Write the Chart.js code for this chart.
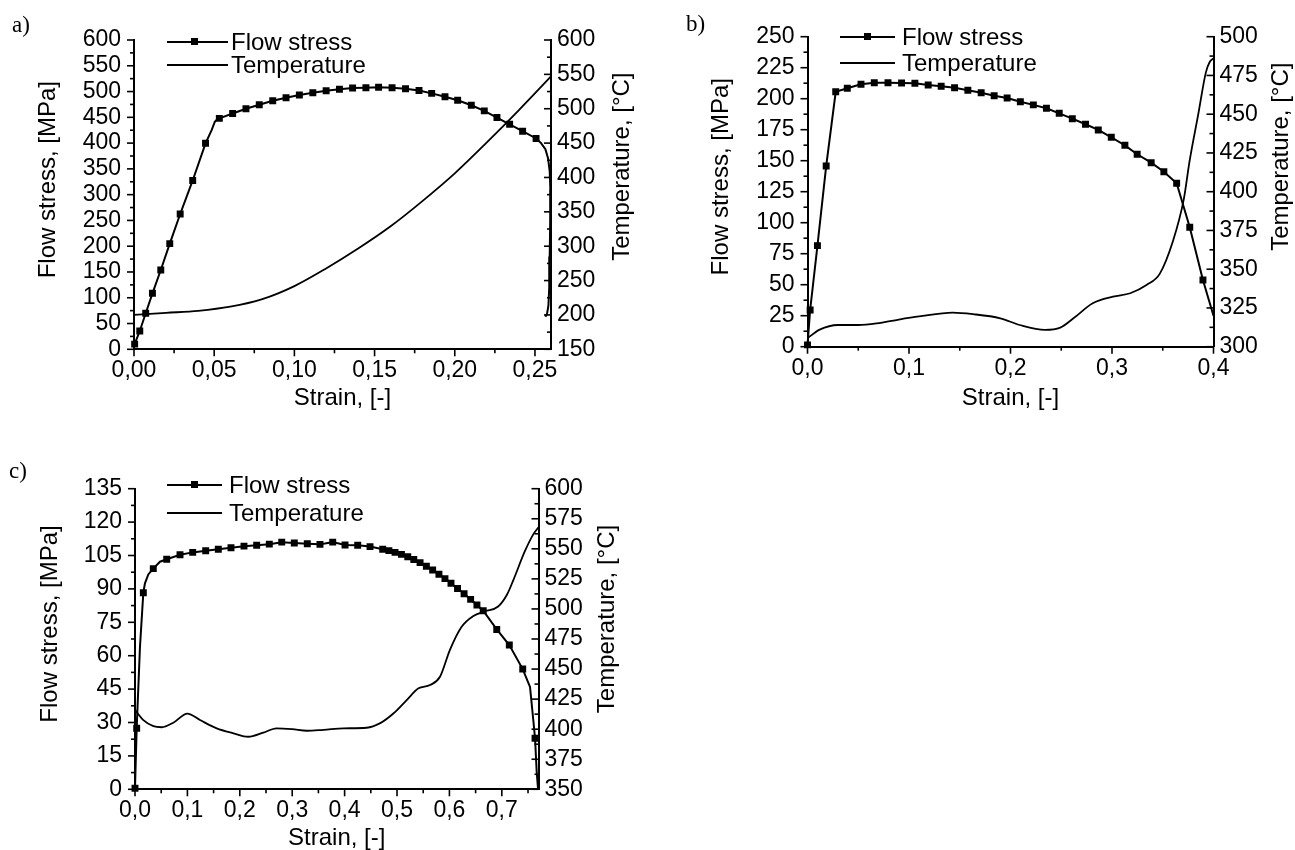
<!DOCTYPE html>
<html><head><meta charset="utf-8">
<script src="https://cdn.jsdelivr.net/npm/chart.js@4.4.1/dist/chart.umd.min.js"></script>
<style>
html,body{margin:0;padding:0;background:#fff;overflow:hidden;width:1295px;height:850px;}
canvas{position:absolute;}
.lbl{position:absolute;font-family:'Liberation Serif','Times New Roman',serif;font-size:23px;line-height:26px;color:#000;}
.leg{position:absolute;font-family:'Liberation Sans',Arial,sans-serif;font-size:24px;line-height:28px;color:#000;white-space:nowrap;}
.legline{position:absolute;height:2px;background:#000;}
.legmark{position:absolute;width:7px;height:7px;background:#000;}
</style></head><body>
<canvas id="ca" width="660" height="430" style="left:0;top:0;width:660px;height:430px"></canvas>
<canvas id="cb" width="625" height="430" style="left:670px;top:0;width:625px;height:430px"></canvas>
<canvas id="cc" width="660" height="420" style="left:0;top:440px;width:660px;height:420px"></canvas>

<div class="lbl" style="left:12px;top:12px">a)</div>
<div class="lbl" style="left:686px;top:11px">b)</div>
<div class="lbl" style="left:9px;top:458px">c)</div>

<!-- legends -->
<div class="legline" style="left:167px;top:41px;width:61px"></div>
<div class="legmark" style="left:191px;top:38px"></div>
<div class="leg" style="left:231px;top:28px">Flow stress</div>
<div class="legline" style="left:167px;top:64px;width:61px"></div>
<div class="leg" style="left:231px;top:51px">Temperature</div>

<div class="legline" style="left:840px;top:36px;width:55px"></div>
<div class="legmark" style="left:864px;top:33px"></div>
<div class="leg" style="left:902px;top:23px">Flow stress</div>
<div class="legline" style="left:840px;top:62px;width:55px"></div>
<div class="leg" style="left:902px;top:49px">Temperature</div>

<div class="legline" style="left:167px;top:484px;width:55px"></div>
<div class="legmark" style="left:191px;top:481px"></div>
<div class="leg" style="left:229px;top:471px">Flow stress</div>
<div class="legline" style="left:167px;top:512px;width:55px"></div>
<div class="leg" style="left:229px;top:499px">Temperature</div>

<script>
// ---------------- Panel a) ----------------
const aMarkStrain = [0.0004,0.0036,0.0073,0.0115,0.0167,0.0223,0.0288,0.0366,0.0446,0.0532,0.0615,0.0698,0.0781,0.0865,0.0948,0.1031,0.1115,0.1198,0.1281,0.1363,0.1446,0.1525,0.1609,0.1693,0.1777,0.1856,0.1939,0.2018,0.2103,0.2184,0.2263,0.2342,0.2423,0.2507];
const aMarkStress = [10,35.5,70,108.6,153.8,205,262.5,327.5,399.6,448,457.5,466.5,474.5,482.3,488,493.3,497.8,501.5,504.4,506.9,507.5,508.2,507.5,505.5,502,496.5,490,483,473.5,462.5,449.5,436.5,423,409];
const aKneeStrain = [0.0484,0.0504,0.0518];
const aKneeStress = [425,441.5,446];
const aTailStrain = [0.2538,0.2565,0.2582,0.2592,0.2596,0.2595,0.2592,0.2589,0.2584,0.2575,0.2565];
const aTailStress = [400,388,370,345,310,250,180,120,85,68,63];
const aTempStrain = [0,0.02,0.04,0.06,0.08,0.10,0.12,0.14,0.16,0.18,0.20,0.22,0.24,0.26];
const aTemp       = [200,203,206,212,223,242,268,297,329,366,406,451,498,547];
const aXRange = [0,0.26], aYRange = [0,600], aY2Range = [150,600];
const aXSteps = [0.05,0.025], aYSteps = [50,25], aY2Steps = [50,25];

// ---------------- Panel b) ----------------
const bMarkStrain = [0,0.0026,0.0098,0.0184,0.0278,0.0392,0.0527,0.0658,0.0793,0.0927,0.1058,0.1189,0.1317,0.1449,0.158,0.1711,0.1839,0.1967,0.2097,0.2225,0.2354,0.248,0.2609,0.2739,0.2865,0.2993,0.3127,0.3248,0.3386,0.3511,0.3637,0.3766,0.3896];
const bMarkStress = [1.5,29.6,81.5,145.7,205.6,208.4,211.6,212.9,212.9,212.7,212.4,211,210,208.9,206.8,204.8,202.4,200.6,197.6,195,192.3,188.2,183.9,179.4,174.8,168.9,162.4,155.2,148.4,141.1,131.8,96.3,53.8];
const bTailStrain = [0.4];
const bTailStress = [25];
const bTempStrain = [0,0.012,0.03,0.05,0.068,0.09,0.11,0.143,0.163,0.19,0.209,0.234,0.249,0.262,0.281,0.301,0.318,0.334,0.347,0.36,0.3707,0.3765,0.385,0.3925,0.3965,0.4];
const bTemp       = [305.5,311,314,314,315,317.5,319.5,322,321,318.3,314,310.8,312.3,318.3,328,332.3,334.5,339.8,347,368,395,420,450,477,484,486];
const bXRange = [0,0.4], bYRange = [0,250], bY2Range = [300,500];
const bXSteps = [0.1,0.05], bYSteps = [25,12.5], bY2Steps = [25,12.5];

// ---------------- Panel c) ----------------
const cMarkStrain = [0,0.0032,0.0159,0.0349,0.0605,0.0859,0.1101,0.1349,0.159,0.1832,0.208,0.2322,0.2563,0.28,0.304,0.3288,0.353,0.3773,0.4008,0.425,0.4485,0.4727,0.4845,0.4962,0.5085,0.5205,0.532,0.544,0.556,0.568,0.58,0.5915,0.603,0.6155,0.628,0.6405,0.6525,0.6645,0.6903,0.7143,0.7399,0.7634];
const cMarkStress = [0.5,27.4,88.3,99.1,103.3,105.3,106.4,107.1,107.8,108.5,109.2,109.6,110.1,111,110.6,110.3,110,111,109.7,109.6,109,107.8,107.2,106.4,105.5,104.4,103.2,101.8,100.2,98.5,96.6,94.6,92.5,90.2,87.8,85.3,82.8,80.2,71.8,64.8,54,22.9];
const cExtraStrain = [0.0095,0.019,0.0254,0.0477,0.7538,0.7601,0.7665,0.769];
const cExtraStress = [64,92.5,96.5,102.2,46,31,8,0.5];
const cTempStrain = [0,0.016,0.035,0.051,0.073,0.1,0.124,0.156,0.188,0.216,0.245,0.27,0.3,0.328,0.36,0.398,0.442,0.468,0.493,0.518,0.541,0.563,0.582,0.601,0.623,0.645,0.668,0.693,0.71,0.722,0.744,0.76,0.77];
const cTemp       = [416,407.5,402.5,401.6,405.4,413,407.6,400.7,396.6,393.7,397.1,400.7,400,398.7,399.5,400.7,401.2,405,413,424,434,436.7,443.6,466,485,494,498,502,512,524,548,562,568];
const cXRange = [0,0.77], cYRange = [0,135], cY2Range = [350,600];
const cXSteps = [0.1,0.05], cYSteps = [15,7.5], cY2Steps = [25,12.5];

const FONT = "'Liberation Sans', Arial, sans-serif";

function pts(xs, ys){ return xs.map((x,i)=>({x:x, y:ys[i]})); }
function sortedMerge(a, b){ return a.concat(b).sort((p,q)=>p.x-q.x); }

const tickPlugin = {
  id: 'axisTicks',
  afterDraw(chart, args, opts) {
    const ctx = chart.ctx, ca = chart.chartArea;
    ctx.save(); ctx.strokeStyle = '#000'; ctx.lineWidth = 1.6;
    ['x','y','y2'].forEach(id => {
      const s = chart.scales[id], st = opts[id];
      const n = Math.round((s.max - s.min) / st[1] + 1e-6);
      for (let i = 0; i <= n; i++) {
        const v = s.min + i * st[1];
        if (v > s.max + 1e-9) break;
        const r = v / st[0];
        const major = Math.abs(r - Math.round(r)) < 1e-6;
        const len = major ? 7 : 4;
        const p = s.getPixelForValue(v);
        ctx.beginPath();
        if (id === 'x') { ctx.moveTo(p, ca.bottom); ctx.lineTo(p, ca.bottom + len); }
        else if (id === 'y') { ctx.moveTo(ca.left, p); ctx.lineTo(ca.left - len, p); }
        else { ctx.moveTo(ca.right, p); ctx.lineTo(ca.right - len, p); }
        ctx.stroke();
      }
    });
    ctx.restore();
  }
};

const titlePlugin = {
  id: 'vTitles',
  afterDraw(chart, args, opts) {
    const ctx = chart.ctx, ca = chart.chartArea;
    ctx.save(); ctx.fillStyle = '#000'; ctx.font = '24px ' + FONT;
    ctx.textAlign = 'center'; ctx.textBaseline = 'middle';
    opts.items.forEach(t => {
      const x = t.side === 'left' ? ca.left - t.dx : ca.right + t.dx;
      const y = (ca.top + ca.bottom) / 2 + t.dy;
      ctx.save(); ctx.translate(x, y); ctx.rotate(-Math.PI / 2); ctx.fillText(t.text, 0, 0); ctx.restore();
    });
    ctx.restore();
  }
};

function makeChart(id, g, d) {
  const tickFont = {family: FONT, size: 23};
  const border = {display: true, color: '#000', width: 2};
  const grid = {display: false, drawTicks: false};
  const keepSteps = (step) => (s) => { s.ticks = s.ticks.filter(t => { const r = t.value/step; return Math.abs(r - Math.round(r)) < 1e-6; }); };
  return new Chart(document.getElementById(id), {
    type: 'scatter',
    data: { datasets: [
      { label: 'Temperature', data: d.temp, yAxisID: 'y2', showLine: true, borderColor: '#000', borderWidth: 1.8,
        pointRadius: 0, cubicInterpolationMode: 'monotone', fill: false, clip: 4 },
      { label: 'Flow stress', data: d.line, yAxisID: 'y', showLine: true, borderColor: '#000', borderWidth: 2,
        pointRadius: 0, tension: 0, fill: false, clip: 4 },
      { label: 'Flow stress markers', data: d.marks, yAxisID: 'y', showLine: false, pointStyle: 'rect',
        pointRadius: 4.9, pointBackgroundColor: '#000', pointBorderColor: '#000', pointBorderWidth: 0, clip: 6 }
    ]},
    options: {
      responsive: false, animation: false, events: [],
      layout: { padding: {left: 0, right: 0, top: g.T, bottom: 0} },
      plugins: {
        legend: {display: false}, tooltip: {enabled: false},
        axisTicks: { x: d.xSteps, y: d.ySteps, y2: d.y2Steps },
        vTitles: { items: [
          {side: 'left', text: 'Flow stress, [MPa]', dx: g.ltx, dy: g.lty},
          {side: 'right', text: 'Temperature, [°C]', dx: g.rtx, dy: g.rty}
        ]}
      },
      scales: {
        x: { type: 'linear', position: 'bottom', min: d.xRange[0], max: d.xRange[1],
          afterFit: (s) => { s.height = g.H - g.B; },
          afterBuildTicks: keepSteps(d.xSteps[0]),
          grid: grid, border: border,
          ticks: { stepSize: d.xSteps[0], includeBounds: false, autoSkip: false, maxRotation: 0, minRotation: 0,
            padding: 8, color: '#000', font: tickFont,
            callback: (v) => v.toFixed(d.xDec).replace('.', ',') },
          title: { display: true, text: 'Strain, [-]', color: '#000', font: {family: FONT, size: 24},
            padding: {top: 0, bottom: g.pb} } },
        y: { type: 'linear', position: 'left', min: d.yRange[0], max: d.yRange[1],
          afterFit: (s) => { s.width = g.L; },
          afterBuildTicks: keepSteps(d.ySteps[0]),
          grid: grid, border: border,
          ticks: { stepSize: d.ySteps[0], autoSkip: false, padding: 13, color: '#000', font: tickFont,
            callback: (v) => String(Math.round(v)) } },
        y2: { type: 'linear', position: 'right', min: d.y2Range[0], max: d.y2Range[1],
          afterFit: (s) => { s.width = g.W - g.R; },
          afterBuildTicks: keepSteps(d.y2Steps[0]),
          grid: grid, border: border,
          ticks: { stepSize: d.y2Steps[0], autoSkip: false, padding: 6, color: '#000', font: tickFont,
            callback: (v) => String(Math.round(v)) } }
      }
    },
    plugins: [tickPlugin, titlePlugin]
  });
}

makeChart('ca',
  {L:134, R:551, T:40, B:349.3, W:660, H:430, pb:17.6, ltx:86, lty:-15, rtx:71, rty:-28},
  { temp: pts(aTempStrain, aTemp),
    line: sortedMerge(pts(aMarkStrain, aMarkStress), pts(aKneeStrain, aKneeStress)).concat(pts(aTailStrain, aTailStress)),
    marks: pts(aMarkStrain, aMarkStress),
    xRange: aXRange, yRange: aYRange, y2Range: aY2Range,
    xSteps: aXSteps, ySteps: aYSteps, y2Steps: aY2Steps, xDec: 2 });

makeChart('cb',
  {L:137.5, R:543.5, T:36.7, B:346.7, W:625, H:430, pb:17.6, ltx:86, lty:-15, rtx:68, rty:-35},
  { temp: pts(bTempStrain, bTemp),
    line: pts(bMarkStrain, bMarkStress).concat(pts(bTailStrain, bTailStress)),
    marks: pts(bMarkStrain, bMarkStress),
    xRange: bXRange, yRange: bYRange, y2Range: bY2Range,
    xSteps: bXSteps, ySteps: bYSteps, y2Steps: bY2Steps, xDec: 1 });

makeChart('cc',
  {L:135, R:538.5, T:48.7, B:349.3, W:660, H:420, pb:7.6, ltx:85, lty:-15, rtx:68.5, rty:-20},
  { temp: pts(cTempStrain, cTemp),
    line: sortedMerge(pts(cMarkStrain, cMarkStress), pts(cExtraStrain, cExtraStress)),
    marks: pts(cMarkStrain, cMarkStress),
    xRange: cXRange, yRange: cYRange, y2Range: cY2Range,
    xSteps: cXSteps, ySteps: cYSteps, y2Steps: cY2Steps, xDec: 1 });
</script>
</body></html>
